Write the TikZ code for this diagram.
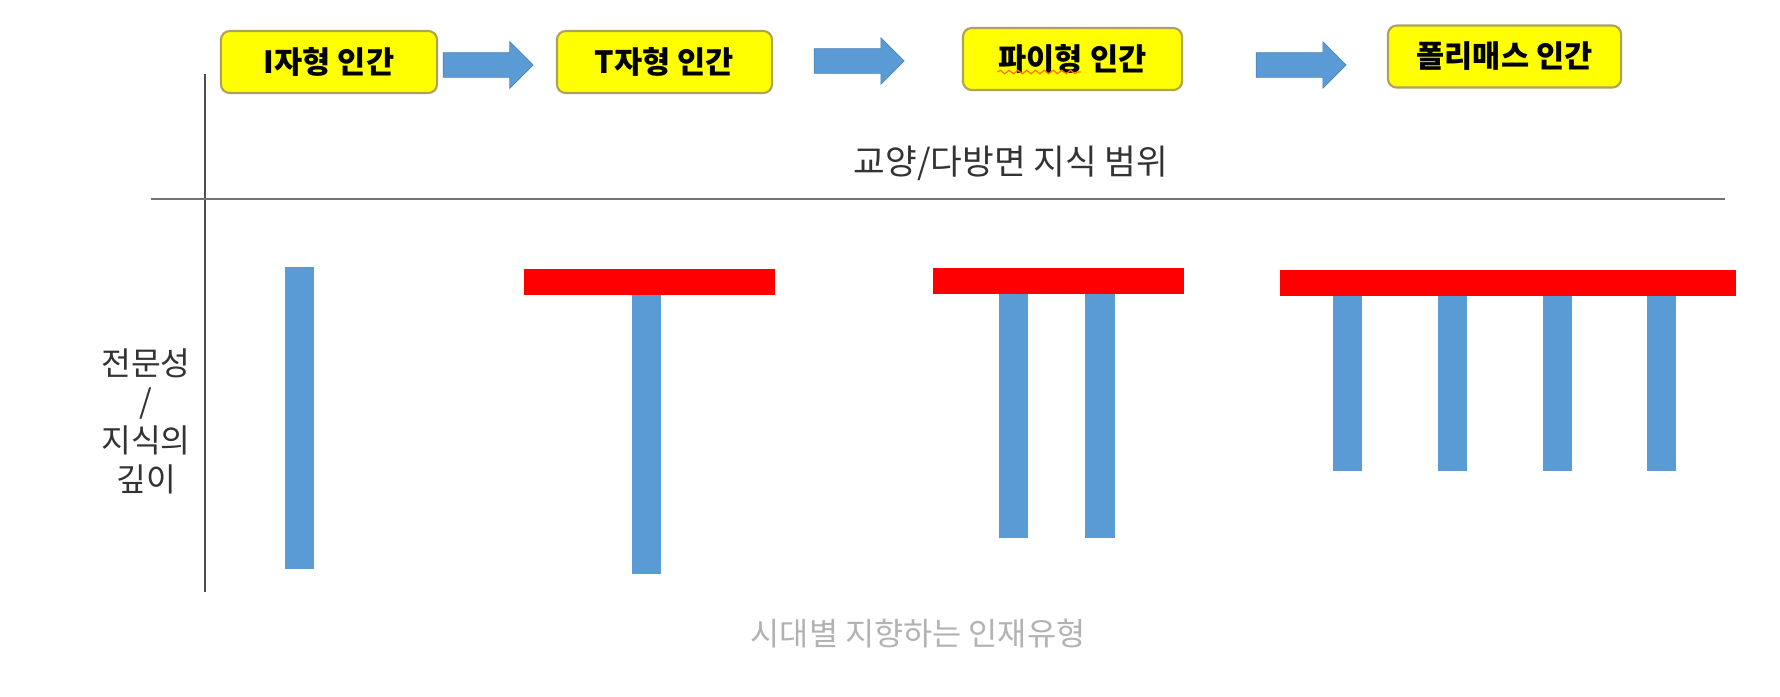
\documentclass[tikz,border=0pt]{standalone}
\usepackage{fontspec}
\setmainfont{Noto Sans CJK KR}
\usepackage{tikz}
\usetikzlibrary{shapes.arrows}
\usetikzlibrary{decorations.pathmorphing}
\definecolor{boxyellow}{RGB}{255,255,0}
\definecolor{boxrim}{RGB}{172,162,88}
\definecolor{barblue}{RGB}{91,155,213}
\definecolor{barred}{RGB}{255,0,0}
\definecolor{capgray}{RGB}{178,178,178}
\definecolor{axisgray}{RGB}{80,80,80}

\tikzset{
  typebox/.style={draw=boxrim, line width=0.6pt, fill=boxyellow, rounded corners=2.5pt,
    minimum height=0.62cm, inner sep=0pt, font=\bfseries\fontsize{8.7}{10}\selectfont},
  flowarrow/.style={single arrow, fill=barblue, draw=barblue!85!black, line width=0.2pt,
    text height=0.24cm, text depth=0pt, text width=0pt, minimum height=0.9cm,
    single arrow head extend=0.11cm, inner sep=0pt},
  depth/.style={fill=barblue},
  breadth/.style={fill=barred},
}

\begin{document}
\begin{tikzpicture}[x=0.01cm, y=-0.01cm]
\useasboundingbox[fill=white] (0,0) rectangle (1780,696);
% axes
\draw[axisgray, line width=0.45pt] (205,74) -- (205,592);
\draw[axisgray!80, line width=0.6pt] (151,199) -- (1725,199);

% the four types
\node[typebox, minimum width=2.16cm] (itype) at (329,62) {I자형 인간};
\node[typebox, minimum width=2.15cm] (ttype) at (664.5,62) {T자형 인간};
\node[typebox, minimum width=2.19cm] (pitype) at (1072.5,59) {파이형 인간};
\node[typebox, minimum width=2.33cm] (polytype) at (1504.5,56.5) {폴리매스 인간};
\draw[orange!90!red, line width=0.35pt, decorate,
  decoration={snake, amplitude=0.5pt, segment length=2.5pt}]
  ([shift={(-75,13)}]pitype.center) -- ([shift={(8,13)}]pitype.center);

\node[flowarrow] (go1) at (482,65) {};
\node[flowarrow] (go2) at (853,61) {};
\node[flowarrow] (go3) at (1295,65) {};

\node[text=black!80, font=\fontsize{9.8}{12}\selectfont] (breadthlbl) at (1011,163) {교양/다방면 지식 범위};
\node[text=black!80, align=center, font=\fontsize{9.2}{11}\selectfont] (depthlbl) at (146,421)
  {전문성\\/\\지식의\\깊이};
\node[text=capgray, font=\fontsize{9}{11}\selectfont] (caption) at (918,634) {시대별 지향하는 인재유형};

% I
\fill[depth] (285,267) rectangle (314,569);
% T
\fill[breadth] (524,269) rectangle (775,295);
\fill[depth] (632,295) rectangle (661,574);
% pi
\fill[breadth] (933,268) rectangle (1184,294);
\fill[depth] (999,294) rectangle (1028,538);
\fill[depth] (1085,294) rectangle (1115,538);
% polymath
\fill[breadth] (1280,270) rectangle (1736,296);
\foreach \lx in {1333,1438,1543,1647}
  \fill[depth] (\lx,296) rectangle ++(29,175);
\end{tikzpicture}
\end{document}
